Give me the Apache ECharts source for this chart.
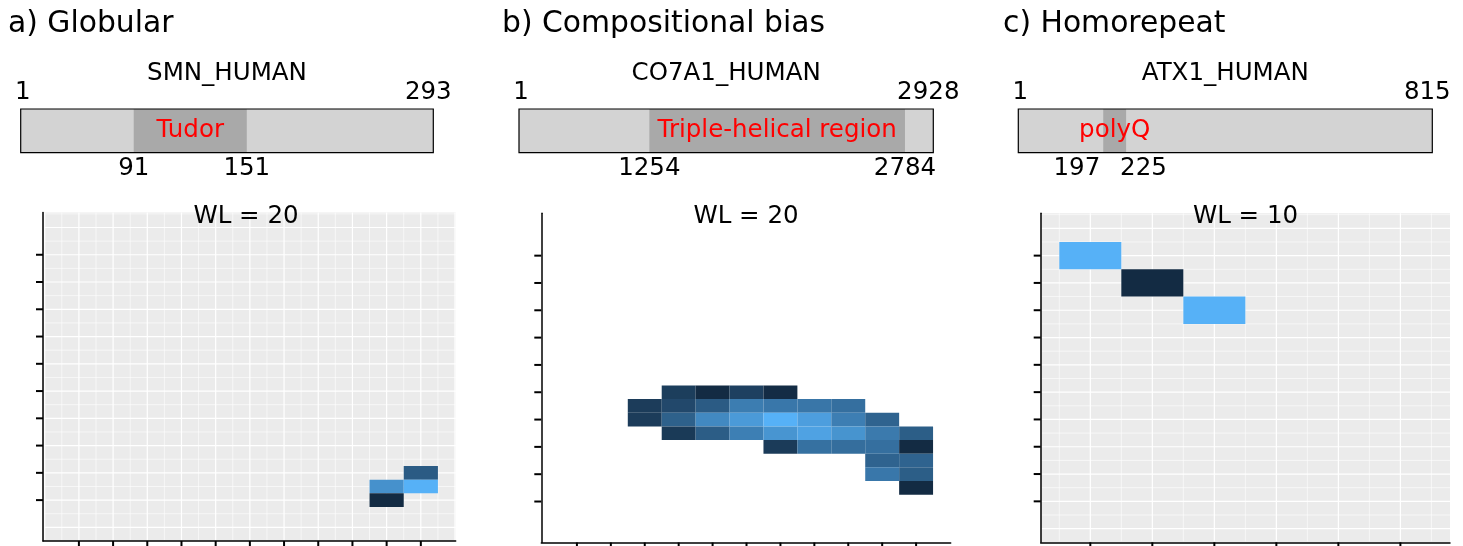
<!DOCTYPE html>
<html>
<head>
<meta charset="utf-8">
<title>Domains and WL maps</title>
<script src="https://cdn.jsdelivr.net/npm/echarts@6/dist/echarts.min.js"></script>
<style>
  html, body { margin: 0; padding: 0; background: #fff; }
  #chart { width: 1463px; height: 546px; }
</style>
</head>
<body>
<div id="chart"></div>
<script>
// panel headings and protein schematics
var panelTitles = ['a) Globular', 'b) Compositional bias', 'c) Homorepeat'];
var proteinNames = ['SMN_HUMAN', 'CO7A1_HUMAN', 'ATX1_HUMAN'];
var proteinLengths = [293, 2928, 815];
var domainNames = ['Tudor', 'Triple-helical region', 'polyQ'];
var domainStarts = [91, 1254, 197];
var domainEnds = [151, 2784, 225];
// the bars are schematic, not to scale: where the domain box sits, in residues
var domainBoxStarts = [81, 922, 168];
var domainBoxEnds = [161, 2728, 213];
var windowLengths = [20, 20, 10];

// heatmap cells [x, y, value]
var cellsA = [[10, 1.5, 0.76], [10, 1, 0.00], [11, 2, 0.36], [11, 1.5, 1.00]];
var cellsB = [
    [3, 4.5, 0.13], [3, 4, 0.13],
    [4, 5, 0.14], [4, 4.5, 0.22], [4, 4, 0.40], [4, 3.5, 0.11],
    [5, 5, 0.00], [5, 4.5, 0.36], [5, 4, 0.70], [5, 3.5, 0.37],
    [6, 5, 0.16], [6, 4.5, 0.61], [6, 4, 0.83], [6, 3.5, 0.63],
    [7, 5, 0.01], [7, 4.5, 0.57], [7, 4, 1.00], [7, 3.5, 0.79], [7, 3, 0.12],
    [8, 4.5, 0.56], [8, 4, 0.86], [8, 3.5, 0.89], [8, 3, 0.52],
    [9, 4.5, 0.51], [9, 4, 0.62], [9, 3.5, 0.78], [9, 3, 0.50],
    [10, 4, 0.42], [10, 3.5, 0.59], [10, 3, 0.51], [10, 2.5, 0.42], [10, 2, 0.57],
    [11, 3.5, 0.38], [11, 3, 0.00], [11, 2.5, 0.42], [11, 2, 0.38], [11, 1.5, 0.00]
];
var cellsC = [[1, 10, 1.00], [2, 9, 0.00], [3, 8, 1.00]];

// axis breaks
var xTicksAB = [1, 2, 3, 4, 5, 6, 7, 8, 9, 10, 11];
var xTicksC = [1, 2, 3, 4, 5, 6];
var yTicks = [1, 2, 3, 4, 5, 6, 7, 8, 9, 10];
var xMajorA = [0, 1, 2, 3, 4, 5, 6, 7, 8, 9, 10, 11, 12];
var xMinorA = [0.5, 1.5, 2.5, 3.5, 4.5, 5.5, 6.5, 7.5, 8.5, 9.5, 10.5, 11.5];
var xMajorC = [1, 2, 3, 4, 5, 6];
var xMinorC = [0.5, 1.5, 2.5, 3.5, 4.5, 5.5, 6.5];
var yMajor = [0, 1, 2, 3, 4, 5, 6, 7, 8, 9, 10, 11];
var yMinor = [0.5, 1.5, 2.5, 3.5, 4.5, 5.5, 6.5, 7.5, 8.5, 9.5, 10.5, 11.5];

var FONT = 'DejaVu Sans';

function gridLineData(xMajor, xMinor) {
    var d = [];
    xMinor.forEach(function (v) { d.push([v, 0, 0]); });
    yMinor.forEach(function (v) { d.push([v, 1, 0]); });
    xMajor.forEach(function (v) { d.push([v, 0, 1]); });
    yMajor.forEach(function (v) { d.push([v, 1, 1]); });
    return d;
}
function tickData(xTicks) {
    var d = [];
    xTicks.forEach(function (v) { d.push([v, 0]); });
    yTicks.forEach(function (v) { d.push([v, 1]); });
    return d;
}

function renderGridLine(params, api) {
    var v = api.value(0), horiz = api.value(1) === 1, major = api.value(2) === 1;
    var cs = params.coordSys;
    var shape;
    if (horiz) {
        var py = api.coord([1, v])[1];
        shape = {x1: cs.x + 1, y1: py, x2: cs.x + cs.width, y2: py};
    } else {
        var px = api.coord([v, 1])[0];
        shape = {x1: px, y1: cs.y, x2: px, y2: cs.y + cs.height - 1};
    }
    return {type: 'line', shape: shape, silent: true,
        style: {stroke: '#ffffff', lineWidth: major ? 1.2 : 0.6}};
}

// axis tick marks at the break values, outside the plot
function renderTick(params, api) {
    var v = api.value(0), onY = api.value(1) === 1;
    var cs = params.coordSys;
    var shape;
    if (onY) {
        var py = api.coord([1, v])[1];
        shape = {x1: cs.x - 7, y1: py, x2: cs.x, y2: py};
    } else {
        var px = api.coord([v, 1])[0];
        var by = cs.y + cs.height;
        shape = {x1: px, y1: by, x2: px, y2: by + 7};
    }
    return {type: 'line', shape: shape, silent: true,
        style: {stroke: '#000', lineWidth: 2}};
}

function cellRenderer(w, h) {
    return function (params, api) {
        var x = api.value(0), y = api.value(1);
        var p0 = api.coord([x - w / 2, y + h / 2]);
        var p1 = api.coord([x + w / 2, y - h / 2]);
        return {type: 'rect',
            shape: {x: p0[0], y: p0[1], width: p1[0] - p0[0], height: p1[1] - p0[1]},
            style: {fill: api.visual('color')}};
    };
}

function txt(text, x, y, size, color, align) {
    return {type: 'text', x: x, y: y, silent: true, z: 100,
        style: {text: text, fill: color || '#000', fontSize: size, fontFamily: FONT,
            align: align || 'center', verticalAlign: 'middle'}};
}

function proteinRenderer(i) {
    return function (params, api) {
        var p0 = api.coord([api.value(0), 1]);
        var p1 = api.coord([api.value(1), 0]);
        var d0 = api.coord([api.value(2), 1]);
        var d1 = api.coord([api.value(3), 0]);
        var w = p1[0] - p0[0], h = p1[1] - p0[1];
        var narrow = (d1[0] - d0[0]) < 60;
        var kids = [
            {type: 'rect', shape: {x: p0[0], y: p0[1], width: w, height: h},
                style: {fill: '#d3d3d3'}},
            {type: 'rect', shape: {x: d0[0], y: d0[1], width: d1[0] - d0[0], height: h},
                style: {fill: '#a9a9a9'}},
            {type: 'rect', shape: {x: p0[0], y: p0[1], width: w, height: h},
                style: {fill: 'none', stroke: '#000', lineWidth: 1.2}},
            txt(proteinNames[i], (p0[0] + p1[0]) / 2, p0[1] - 35, 24.5),
            txt('1', p0[0] + 2, p0[1] - 16.5, 24.5),
            txt(String(proteinLengths[i]), p1[0] - 5, p0[1] - 16.5, 24.5),
            txt(String(domainStarts[i]), narrow ? d0[0] - 3 : d0[0], p1[1] + 16, 24.5, '#000', narrow ? 'right' : 'center'),
            txt(String(domainEnds[i]), narrow ? d1[0] - 6 : d1[0], p1[1] + 16, 24.5, '#000', narrow ? 'left' : 'center'),
            txt(domainNames[i], (d0[0] + d1[0]) / 2, (p0[1] + p1[1]) / 2, 24.5, '#ff0000')
        ];
        return {type: 'group', children: kids};
    };
}

function heatX(gi, min, max) {
    return {type: 'value', gridIndex: gi, min: min, max: max, z: 10,
        axisLine: {show: true, onZero: false, lineStyle: {color: '#000', width: 1.5}},
        axisTick: {show: false}, axisLabel: {show: false}, splitLine: {show: false}};
}
function heatY(gi) {
    return {type: 'value', gridIndex: gi, min: -0.5, max: 11.55, z: 10,
        axisLine: {show: true, onZero: false, lineStyle: {color: '#000', width: 1.5}},
        axisTick: {show: false}, axisLabel: {show: false}, splitLine: {show: false}};
}
function hiddenAxis(gi, min, max) {
    return {type: 'value', gridIndex: gi, min: min, max: max, show: false};
}

var chart = echarts.init(document.getElementById('chart'), null, {renderer: 'canvas'});

var graphics = [];
var titleX = [8, 502, 1003];
var wlX = [246, 746, 1245.5];
for (var i = 0; i < 3; i++) {
    graphics.push(txt(panelTitles[i], titleX[i], 24, 29.8, '#000', 'left'));
    graphics.push(txt('WL = ' + windowLengths[i], wlX[i], 217, 24.5));
}

var series = [];
for (var k = 0; k < 3; k++) {
    series.push({type: 'custom', xAxisIndex: k, yAxisIndex: k, clip: false, silent: true,
        renderItem: proteinRenderer(k),
        data: [[1, proteinLengths[k], domainBoxStarts[k], domainBoxEnds[k]]]});
}
series.push({type: 'custom', xAxisIndex: 3, yAxisIndex: 3, z: 1, silent: true,
    renderItem: renderGridLine, data: gridLineData(xMajorA, xMinorA)});
series.push({type: 'custom', xAxisIndex: 5, yAxisIndex: 5, z: 1, silent: true,
    renderItem: renderGridLine, data: gridLineData(xMajorC, xMinorC)});
series.push({type: 'custom', xAxisIndex: 3, yAxisIndex: 3, z: 2,
    renderItem: cellRenderer(1, 0.5), encode: {x: 0, y: 1}, data: cellsA});
series.push({type: 'custom', xAxisIndex: 4, yAxisIndex: 4, z: 2,
    renderItem: cellRenderer(1, 0.5), encode: {x: 0, y: 1}, data: cellsB});
series.push({type: 'custom', xAxisIndex: 5, yAxisIndex: 5, z: 2,
    renderItem: cellRenderer(1, 1), encode: {x: 0, y: 1}, data: cellsC});
series.push({type: 'custom', xAxisIndex: 3, yAxisIndex: 3, z: 3, clip: false, silent: true,
    renderItem: renderTick, data: tickData(xTicksAB)});
series.push({type: 'custom', xAxisIndex: 4, yAxisIndex: 4, z: 3, clip: false, silent: true,
    renderItem: renderTick, data: tickData(xTicksAB)});
series.push({type: 'custom', xAxisIndex: 5, yAxisIndex: 5, z: 3, clip: false, silent: true,
    renderItem: renderTick, data: tickData(xTicksC)});

function vmap(si) {
    return {type: 'continuous', show: false, seriesIndex: si, dimension: 2, min: 0, max: 1,
        inRange: {color: ['#132B43', '#56B1F7']}};
}

var option = {
    animation: false,
    backgroundColor: '#ffffff',
    textStyle: {fontFamily: FONT},
    grid: [
        {left: 20.7, top: 109, width: 412.6, height: 43.7},
        {left: 519, top: 109, width: 414.3, height: 43.7},
        {left: 1018.3, top: 109, width: 414, height: 43.7},
        {left: 43, top: 212.5, width: 412.7, height: 328.5, show: true, backgroundColor: '#ebebeb', borderWidth: 0},
        {left: 541.3, top: 213.3, width: 409.4, height: 329.2},
        {left: 1040.7, top: 213.3, width: 409.3, height: 329, show: true, backgroundColor: '#ebebeb', borderWidth: 0}
    ],
    xAxis: [
        hiddenAxis(0, 1, proteinLengths[0]),
        hiddenAxis(1, 1, proteinLengths[1]),
        hiddenAxis(2, 1, proteinLengths[2]),
        heatX(3, -0.05, 12.02),
        heatX(4, -0.05, 12.02),
        heatX(5, 0.2, 6.8)
    ],
    yAxis: [
        hiddenAxis(0, 0, 1), hiddenAxis(1, 0, 1), hiddenAxis(2, 0, 1),
        heatY(3), heatY(4), heatY(5)
    ],
    visualMap: [vmap(5), vmap(6), vmap(7)],
    graphic: graphics,
    series: series
};
chart.setOption(option);
</script>
</body>
</html>
